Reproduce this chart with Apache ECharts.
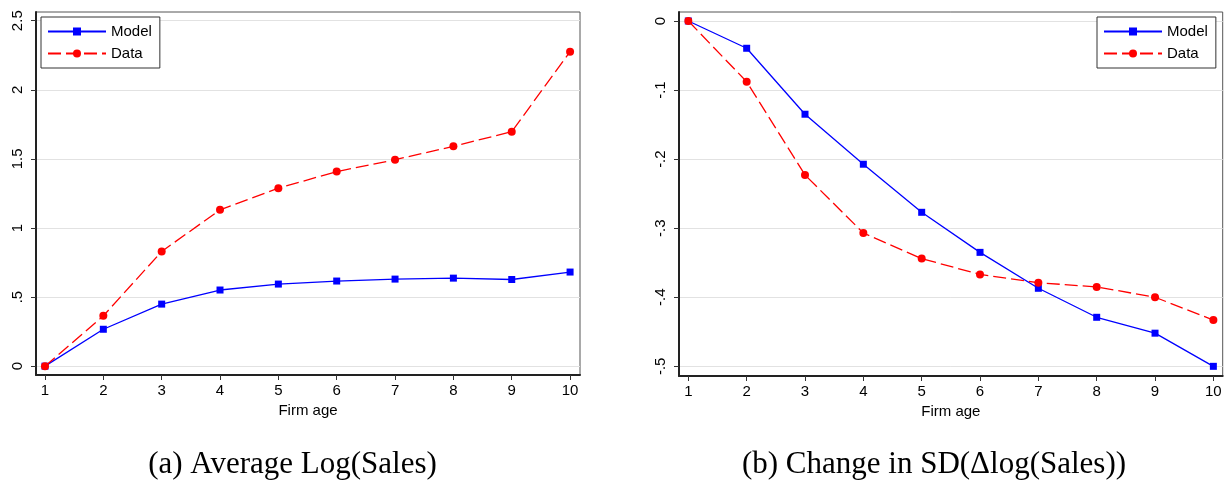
<!DOCTYPE html>
<html><head><meta charset="utf-8">
<script src="https://cdn.jsdelivr.net/npm/echarts@6/dist/echarts.min.js"></script>
<style>html,body{margin:0;padding:0;background:#fff}#c{width:1225px;height:481px}</style>
</head><body><div id="c"></div>
<script>
// ---- data ----
const ages = [1, 2, 3, 4, 5, 6, 7, 8, 9, 10];
const salesModel = [0, 0.267, 0.449, 0.551, 0.594, 0.616, 0.630, 0.637, 0.627, 0.681];
const salesData  = [0, 0.364, 0.830, 1.131, 1.288, 1.408, 1.494, 1.591, 1.697, 2.276];
const sdModel = [0, -0.0395, -0.135, -0.2074, -0.277, -0.335, -0.387, -0.429, -0.452, -0.500];
const sdData  = [0, -0.088, -0.223, -0.307, -0.344, -0.367, -0.379, -0.385, -0.400, -0.433];
const leftYTicks = [0, 0.5, 1, 1.5, 2, 2.5];
const leftYLabels = ['0', '.5', '1', '1.5', '2', '2.5'];
const rightYTicks = [0, -0.1, -0.2, -0.3, -0.4, -0.5];
const rightYLabels = ['0', '-.1', '-.2', '-.3', '-.4', '-.5'];
const xLabel = 'Firm age';
const captionA = '(a) Average Log(Sales)';
const captionB = '(b) Change in SD(\u0394log(Sales))';

const pairs = (ys) => ages.map((a, i) => [a, ys[i]]);
const labelFor = (ticks, labels) => (v) => {
  const i = ticks.findIndex(t => Math.abs(t - v) < 1e-9);
  return i >= 0 ? labels[i] : '';
};

const FONT = 'Liberation Sans, Arial, Helvetica, sans-serif';
const axisLineStyle = { color: '#222', width: 2 };
const tickStyle = { color: '#333', width: 1 };

function xAxis(idx, min, max) {
  return {
    type: 'value', gridIndex: idx, min: min, max: max,
    name: xLabel, nameLocation: 'middle', nameGap: 26,
    nameTextStyle: { fontFamily: FONT, fontSize: 15, color: '#000' },
    axisLine: { show: true, onZero: false, lineStyle: axisLineStyle },
    axisTick: { show: true, length: 5, lineStyle: tickStyle, customValues: ages },
    axisLabel: { customValues: ages, fontFamily: FONT, fontSize: 15, color: '#000', margin: 8 },
    splitLine: { show: false }
  };
}
function yAxis(idx, min, max, ticks, labels) {
  return {
    type: 'value', gridIndex: idx, min: min, max: max,
    axisLine: { show: true, onZero: false, lineStyle: axisLineStyle },
    axisTick: { show: true, length: 5, lineStyle: tickStyle, customValues: ticks },
    axisLabel: { customValues: ticks, formatter: labelFor(ticks, labels), rotate: 90,
      fontFamily: FONT, fontSize: 15, color: '#000', margin: 11 },
    splitLine: { show: true, lineStyle: { color: '#e2e2e2', width: 1 } }
  };
}
function modelSeries(x, y, data) {
  return { name: 'Model', type: 'line', xAxisIndex: x, yAxisIndex: y, data: data,
    symbol: 'rect', symbolSize: 7, showSymbol: true,
    lineStyle: { color: '#0000ff', width: 1.3 }, itemStyle: { color: '#0000ff' },
    animation: false, z: 3 };
}
function dataSeries(x, y, data) {
  return { name: 'Data', type: 'line', xAxisIndex: x, yAxisIndex: y, data: data,
    symbol: 'circle', symbolSize: 8, showSymbol: true,
    lineStyle: { color: '#ff0000', width: 1.3, type: [13, 5] }, itemStyle: { color: '#ff0000' },
    animation: false, z: 4 };
}
function legend(left) {
  return { data: ['Model', 'Data'], orient: 'vertical', left: left, top: 17,
    width: 121, itemWidth: 58, itemHeight: 10, itemGap: 7, itemTextGap: 9,
    padding: [7, 8, 7, 6], borderColor: '#333', borderWidth: 1, backgroundColor: '#fff',
    borderRadius: 0, selectedMode: false,
    textStyle: { fontFamily: FONT, fontSize: 15, color: '#000', lineHeight: 14 } };
}

const chart = echarts.init(document.getElementById('c'), null, { renderer: 'canvas' });
chart.setOption({
  backgroundColor: '#fff',
  animation: false,
  grid: [
    { left: 36, top: 12, width: 544, height: 363, show: true, borderColor: '#555', borderWidth: 1, backgroundColor: '#fff' },
    { left: 679, top: 12, width: 543.7, height: 364, show: true, borderColor: '#555', borderWidth: 1, backgroundColor: '#fff' }
  ],
  xAxis: [xAxis(0, 0.846, 10.17), xAxis(1, 0.84, 10.16)],
  yAxis: [yAxis(0, -0.064, 2.563, leftYTicks, leftYLabels), yAxis(1, -0.514, 0.013, rightYTicks, rightYLabels)],
  legend: [legend(41), legend(1097)],
  series: [
    modelSeries(0, 0, pairs(salesModel)), dataSeries(0, 0, pairs(salesData)),
    modelSeries(1, 1, pairs(sdModel)), dataSeries(1, 1, pairs(sdData))
  ],
  graphic: [
    { type: 'text', x: 292.5, y: 465, style: { text: captionA, fill: '#000',
      font: '31px "Liberation Serif", "Times New Roman", serif', align: 'center', verticalAlign: 'middle' } },
    { type: 'text', x: 934, y: 465, style: { text: captionB, fill: '#000',
      font: '31px "Liberation Serif", "Times New Roman", serif', align: 'center', verticalAlign: 'middle' } }
  ]
});
</script></body></html>
